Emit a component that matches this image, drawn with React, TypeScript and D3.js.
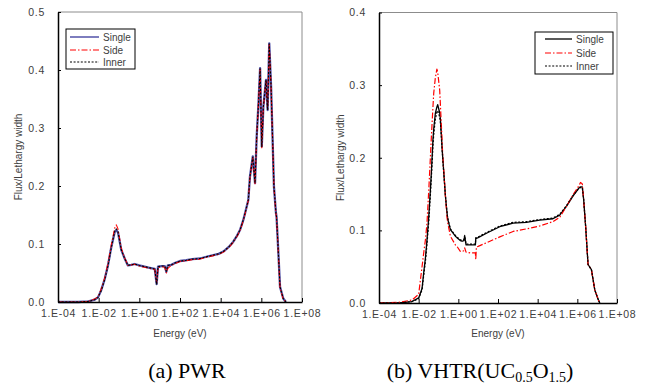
import React from 'react';
import { useRef, useEffect } from 'react';
import * as d3 from 'd3';

// ---- (a) PWR data: energy (eV) and flux per lethargy width ----
const pwrEnergy = [
  1e-4, 1e-3, 3.2e-3, 6.3e-3, 9.3e-3, 1.32e-2, 2.0e-2, 2.9e-2, 4.2e-2, 6.2e-2, 7.4e-2, 8.9e-2,
  0.129, 0.19, 0.275, 0.4, 0.59, 1.0, 1.8, 3.2, 5.75, 7.1, 8.3, 12.6, 17.8, 21.4, 25.1, 37, 63,
  100, 204, 398, 955, 2000, 4370, 7940, 13500, 25100, 41700, 63100, 89100, 1.29e5, 1.58e5,
  2.29e5, 2.75e5, 3.8e5, 4.9e5, 5.9e5, 7.1e5, 8.7e5, 1.05e6, 1.26e6, 1.7e6, 2.04e6, 2.45e6,
  3.02e6, 3.63e6, 4.17e6, 5.25e6, 5.6e6, 6.9e6, 8.3e6, 1.2e7, 1.62e7,
];
const pwrSingle = [
  0, 0, 0.001, 0.004, 0.008, 0.02, 0.04, 0.064, 0.095, 0.121, 0.124, 0.12,
  0.09, 0.075, 0.063, 0.064, 0.0655, 0.063, 0.061, 0.059, 0.057, 0.031, 0.061, 0.062, 0.062, 0.052, 0.063, 0.064, 0.068,
  0.0707, 0.072, 0.074, 0.075, 0.078, 0.081, 0.083, 0.087, 0.095, 0.104, 0.114, 0.124, 0.141, 0.153,
  0.176, 0.216, 0.251, 0.205, 0.285, 0.337, 0.403, 0.268, 0.337, 0.383, 0.331, 0.446,
  0.371, 0.273, 0.199, 0.153, 0.147, 0.084, 0.026, 0.006, 0,
];
const pwrSide = [
  0, 0, 0.001, 0.005, 0.009, 0.022, 0.042, 0.067, 0.098, 0.128, 0.133, 0.126,
  0.093, 0.076, 0.063, 0.064, 0.065, 0.062, 0.06, 0.058, 0.056, 0.033, 0.059, 0.061, 0.06, 0.05, 0.058, 0.063, 0.067,
  0.07, 0.071, 0.073, 0.074, 0.077, 0.08, 0.082, 0.086, 0.094, 0.103, 0.113, 0.123, 0.14, 0.152,
  0.175, 0.214, 0.249, 0.204, 0.283, 0.336, 0.401, 0.266, 0.335, 0.381, 0.33, 0.444,
  0.37, 0.272, 0.198, 0.152, 0.146, 0.083, 0.025, 0.005, 0,
];
const pwrInner = [
  0, 0, 0.001, 0.004, 0.008, 0.019, 0.039, 0.063, 0.094, 0.122, 0.126, 0.121,
  0.09, 0.075, 0.063, 0.064, 0.0655, 0.063, 0.061, 0.059, 0.057, 0.03, 0.061, 0.062, 0.062, 0.053, 0.063, 0.064, 0.068,
  0.0705, 0.072, 0.074, 0.075, 0.078, 0.081, 0.083, 0.087, 0.095, 0.104, 0.114, 0.124, 0.141, 0.153,
  0.176, 0.216, 0.25, 0.205, 0.285, 0.337, 0.402, 0.268, 0.337, 0.383, 0.331, 0.445,
  0.371, 0.273, 0.199, 0.153, 0.147, 0.084, 0.026, 0.006, 0,
];

// ---- (b) VHTR(UC0.5O1.5) data ----
const vhtrEnergy = [
  1e-4, 1e-3, 4.6e-3, 1.0e-2, 1.48e-2, 1.78e-2, 2.19e-2, 2.63e-2, 3.24e-2, 3.89e-2, 4.37e-2, 5.25e-2,
  5.75e-2, 6.92e-2, 8.3e-2, 9.1e-2, 0.115, 0.126, 0.151, 0.162, 0.224, 0.269, 0.295, 0.398, 0.708,
  0.851, 1.26, 1.55, 1.9, 2.09, 2.45, 3.98, 6.03, 7.24, 7.59, 8.13, 10, 26.3, 123, 575, 2690,
  12600, 58900, 1.29e5, 2.82e5, 6.03e5, 1.23e6, 1.45e6, 1.78e6, 2.09e6, 2.63e6, 3.47e6, 5.13e6,
  7.59e6, 1.12e7, 1.35e7,
];
const vhtrSingle = [
  0, 0, 0.002, 0.007, 0.02, 0.041, 0.062, 0.087, 0.12, 0.156, 0.18, 0.225,
  0.24, 0.261, 0.27, 0.273, 0.262, 0.252, 0.215, 0.202, 0.147, 0.124, 0.115, 0.101, 0.092,
  0.09, 0.086, 0.085, 0.086, 0.092, 0.08, 0.08, 0.08, 0.08, 0.089, 0.089, 0.09, 0.096, 0.105, 0.11, 0.111,
  0.114, 0.116, 0.121, 0.133, 0.147, 0.159, 0.16, 0.16, 0.142, 0.105, 0.053, 0.046,
  0.018, 0.005, 0,
];
const vhtrSide = [
  0, 0.001, 0.004, 0.012, 0.05, 0.068, 0.087, 0.11, 0.156, 0.2, 0.229, 0.27,
  0.289, 0.31, 0.322, 0.318, 0.293, 0.27, 0.225, 0.205, 0.147, 0.118, 0.11, 0.092, 0.08,
  0.078, 0.071, 0.071, 0.072, 0.076, 0.07, 0.069, 0.069, 0.069, 0.06, 0.077, 0.078, 0.083, 0.091, 0.0985, 0.102,
  0.106, 0.112, 0.118, 0.133, 0.149, 0.162, 0.166, 0.164, 0.142, 0.105, 0.053, 0.046,
  0.018, 0.005, 0,
];
const vhtrInner = [
  0, 0, 0.002, 0.006, 0.018, 0.037, 0.057, 0.081, 0.112, 0.148, 0.172, 0.216,
  0.232, 0.253, 0.263, 0.265, 0.256, 0.247, 0.212, 0.2, 0.147, 0.125, 0.116, 0.102, 0.093,
  0.091, 0.087, 0.086, 0.087, 0.093, 0.081, 0.081, 0.081, 0.081, 0.09, 0.09, 0.091, 0.097, 0.106, 0.111, 0.112,
  0.115, 0.117, 0.122, 0.134, 0.148, 0.158, 0.159, 0.159, 0.142, 0.105, 0.053, 0.046,
  0.018, 0.005, 0,
];

const xTicks = [1e-4, 1e-2, 1e0, 1e2, 1e4, 1e6, 1e8];
const seriesNames = ['Single', 'Side', 'Inner'];
const pwrYTicks = [0, 0.1, 0.2, 0.3, 0.4, 0.5];
const vhtrYTicks = [0, 0.1, 0.2, 0.3, 0.4];

const fmtE = (d: number) => {
  const e = Math.round(Math.log10(d));
  return `1.E${e < 0 ? '-' : '+'}${String(Math.abs(e)).padStart(2, '0')}`;
};

export default function App() {
  const svgRef = useRef<SVGSVGElement>(null);

  useEffect(() => {
    const svg = d3.select(svgRef.current);
    svg.selectAll('*').remove();

    const panels = [
      {
        box: { l: 58, r: 302, t: 12, b: 302 },
        yMax: 0.5,
        yTicks: pwrYTicks,
        energy: pwrEnergy,
        series: [pwrSingle, pwrSide, pwrInner],
        styles: [
          { stroke: '#5252a8', dash: null, w: 2.3 },
          { stroke: '#ff0000', dash: '6,2,1.5,2', w: 1.1 },
          { stroke: '#000000', dash: '2,1.6', w: 1.1 },
        ],
        legend: { x: 66, y: 29, w: 69, h: 40, line0: 70, line1: 99, rows: [37, 50, 62] },
        ytitleX: 18,
      },
      {
        box: { l: 379, r: 617, t: 12.5, b: 303 },
        yMax: 0.4,
        yTicks: vhtrYTicks,
        energy: vhtrEnergy,
        series: [vhtrSingle, vhtrSide, vhtrInner],
        styles: [
          { stroke: '#000000', dash: null, w: 1.3 },
          { stroke: '#ff0000', dash: '6,2,1.5,2', w: 1.2 },
          { stroke: '#000000', dash: '2,1.6', w: 1.2 },
        ],
        legend: { x: 535, y: 32, w: 78, h: 42, line0: 545, line1: 572, rows: [39, 53, 66] },
        ytitleX: 340.5,
      },
    ];

    panels.forEach((p) => {
      const { l, r, t, b } = p.box;
      const x = d3.scaleLog().domain([1e-4, 1e8]).range([l, r]);
      const y = d3.scaleLinear().domain([0, p.yMax]).range([b, t]);
      const g = svg.append('g');

      // grey frame (top / right)
      g.append('path')
        .attr('d', `M${l},${t}H${r}V${b}`)
        .attr('fill', 'none')
        .attr('stroke', '#8c8c8c')
        .attr('stroke-width', 1);

      const line = d3
        .line<number>()
        .x((d, i) => x(p.energy[i]))
        .y((d) => y(d));

      p.series.forEach((s, i) => {
        const st = p.styles[i];
        g.append('path')
          .datum(s)
          .attr('d', line)
          .attr('fill', 'none')
          .attr('stroke', st.stroke)
          .attr('stroke-width', st.w)
          .attr('stroke-dasharray', st.dash)
          .attr('stroke-linejoin', 'round');
      });

      // axes
      const xAxis = g
        .append('g')
        .attr('transform', `translate(0,${b})`)
        .call(d3.axisBottom(x).tickValues(xTicks).tickFormat(fmtE as any).tickSize(-4).tickSizeOuter(0).tickPadding(8));
      const yAxis = g
        .append('g')
        .attr('transform', `translate(${l},0)`)
        .call(d3.axisLeft(y).tickValues(p.yTicks).tickFormat(d3.format('.1f') as any).tickSize(-3).tickSizeOuter(0).tickPadding(13));
      [xAxis, yAxis].forEach((a) => {
        a.select('.domain').attr('stroke', '#000').attr('stroke-width', 1.5);
        a.selectAll('.tick line').attr('stroke', '#000');
        a.selectAll('.tick text')
          .attr('fill', '#404040')
          .style('font-family', 'Liberation Sans, Arial, sans-serif')
          .style('font-size', '10.5px')
          .style('letter-spacing', '0.7px');
      });

      // axis titles
      g.append('text')
        .attr('x', (l + r) / 2)
        .attr('y', 337)
        .attr('text-anchor', 'middle')
        .attr('fill', '#404040')
        .style('font-family', 'Liberation Sans, Arial, sans-serif')
        .style('font-size', '10px')
        .text('Energy (eV)');
      g.append('text')
        .attr('transform', `translate(${p.ytitleX + 3.5},${(t + b) / 2}) rotate(-90)`)
        .attr('text-anchor', 'middle')
        .attr('fill', '#404040')
        .style('font-family', 'Liberation Sans, Arial, sans-serif')
        .style('font-size', '10px')
        .text('Flux/Lethargy width');

      // legend
      const lg = p.legend;
      g.append('rect')
        .attr('x', lg.x)
        .attr('y', lg.y)
        .attr('width', lg.w)
        .attr('height', lg.h)
        .attr('fill', '#fff')
        .attr('stroke', '#000')
        .attr('stroke-width', 1);
      seriesNames.forEach((name, i) => {
        const st = p.styles[i];
        g.append('line')
          .attr('x1', lg.line0)
          .attr('x2', lg.line1)
          .attr('y1', lg.rows[i])
          .attr('y2', lg.rows[i])
          .attr('stroke', st.stroke)
          .attr('stroke-width', Math.min(st.w, 1.5))
          .attr('stroke-dasharray', st.dash);
        g.append('text')
          .attr('x', lg.line1 + 4)
          .attr('y', lg.rows[i] + 3.5)
          .attr('fill', '#404040')
          .style('font-family', 'Liberation Sans, Arial, sans-serif')
          .style('font-size', '10px')
          .text(name);
      });
    });

    // captions
    const cap = svg
      .append('g')
      .style('font-family', 'Liberation Serif, Times New Roman, serif')
      .style('font-size', '22px')
      .attr('fill', '#000');
    cap.append('text').attr('x', 187).attr('y', 378).attr('text-anchor', 'middle').text('(a) PWR');
    const tb = cap.append('text').attr('x', 480).attr('y', 378).attr('text-anchor', 'middle');
    tb.append('tspan').text('(b) VHTR(UC');
    tb.append('tspan').attr('dy', 4).style('font-size', '14px').text('0.5');
    tb.append('tspan').attr('dy', -4).text('O');
    tb.append('tspan').attr('dy', 4).style('font-size', '14px').text('1.5');
    tb.append('tspan').attr('dy', -4).text(')');
  }, []);

  return (
    <svg
      ref={svgRef}
      width={646}
      height={387}
      style={{ position: 'absolute', left: 0, top: 0, background: '#fff' }}
    ></svg>
  );
}
